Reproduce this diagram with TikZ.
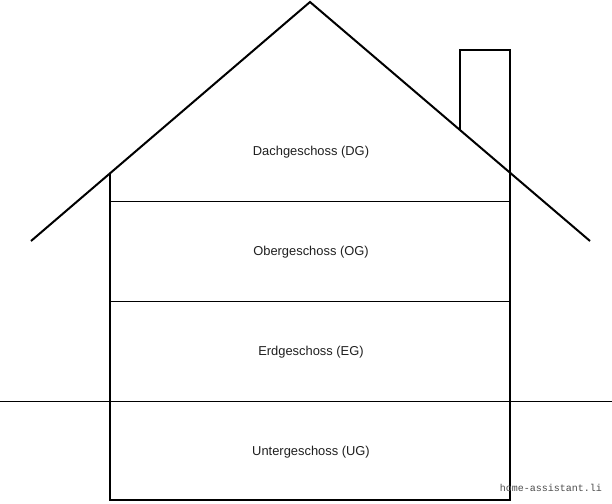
\documentclass[tikz,border=0pt]{standalone}
\usepackage{fontspec}
\setmainfont{Liberation Sans}
\newfontfamily\wmfont{Liberation Mono}
\begin{document}
\begin{tikzpicture}[x=1pt,y=-1pt,
  thick line/.style={line width=2pt,line join=miter},
  thin line/.style={line width=1pt},
  floorlabel/.style={font=\fontsize{12.9}{15}\selectfont,text=black!88,inner sep=0pt}]
\useasboundingbox (0,0) rectangle (612,503);
% roof
\coordinate (rl) at (31,241);
\coordinate (peak) at (310,2);
\coordinate (rr) at (590,241);
\draw[thick line] (rl) -- (peak) -- (rr);
% walls and chimney
\coordinate (wl) at (110,173);
\coordinate (bl) at (110,500);
\coordinate (br) at (510,500);
\coordinate (ct) at (510,50);
\coordinate (cl) at (460,50);
\coordinate (cb) at (460,130);
\draw[thick line] (wl) -- (bl) -- (br) -- (ct) -- (cl) -- (cb);
% floors
\coordinate (f1l) at (110,201); \coordinate (f1r) at (510,201);
\coordinate (f2l) at (110,301); \coordinate (f2r) at (510,301);
\draw[thin line] (f1l) -- (f1r);
\draw[thin line] (f2l) -- (f2r);
% ground
\coordinate (gl) at (0,401); \coordinate (gr) at (612,401);
\draw[thin line] (gl) -- (gr);
% labels
\node[floorlabel] (dg) at (311,152.5) {Dachgeschoss (DG)};
\node[floorlabel] (og) at (311,252.5) {Obergeschoss (OG)};
\node[floorlabel] (eg) at (311,352.5) {Erdgeschoss (EG)};
\node[floorlabel] (ug) at (311,452.5) {Untergeschoss (UG)};
\node[font=\wmfont\fontsize{10}{12}\selectfont,text=black!70,anchor=east,inner sep=0pt] (wm) at (602,488) {home-assistant.li};
\end{tikzpicture}
\end{document}
